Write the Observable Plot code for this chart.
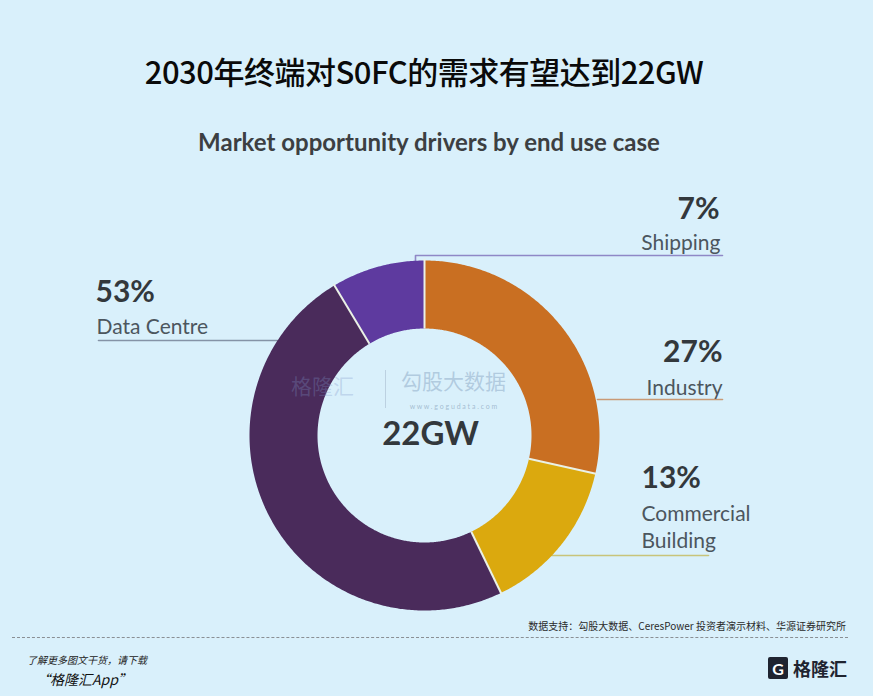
<!DOCTYPE html>
<html>
<head>
<meta charset="utf-8">
<script src="https://cdn.jsdelivr.net/npm/d3@7"></script>
<script src="https://cdn.jsdelivr.net/npm/@observablehq/plot@0.6"></script>
<style>
  html, body { margin: 0; padding: 0; }
  body { width: 873px; height: 696px; background: #d9f0fb; overflow: hidden; position: relative; font-family: "Noto Sans CJK SC", "Noto Sans", sans-serif; }
  #title { position: absolute; left: 0; width: 848px; top: 48px; text-align: center; font-size: 31px; font-weight: 500; color: #0a0a0a; line-height: 46px; letter-spacing: -0.5px; }
  #subtitle { position: absolute; left: 0; width: 858px; top: 127px; text-align: center; font-family: Lato, "Open Sans", sans-serif; font-size: 24px; font-weight: 700; color: #3c3f42; line-height: 30px; }
  #chart { position: absolute; left: 0; top: 180px; }
  #source { position: absolute; right: 27px; top: 619px; font-size: 10px; color: #2a2a2a; line-height: 14px; }
  #sep { position: absolute; left: 12px; width: 836px; top: 637px; border-top: 1px dashed #8a8f94; }
  #dl1 { position: absolute; left: 27px; top: 652px; font-size: 10px; font-style: italic; color: #222; }
  #dl2 { position: absolute; left: 36px; top: 669px; font-size: 14px; font-style: italic; color: #111; }
  #logo { position: absolute; left: 768px; top: 655px; display: flex; align-items: center; }
  #logo .g { width: 20px; height: 22px; background: #1f2430; color: #fff; font: bold 16px Lato, sans-serif; display: flex; align-items: center; justify-content: center; border-radius: 2px; }
  #logo .t { margin-left: 5px; font-size: 18px; font-weight: 700; color: #1f2430; }
</style>
</head>
<body>
<div id="title">2030年终端对S0FC的需求有望达到22GW</div>
<div id="subtitle">Market opportunity drivers by end use case</div>
<div id="chart"></div>
<div id="source">数据支持：勾股大数据、CeresPower 投资者演示材料、华源证券研究所</div>
<div id="sep"></div>
<div id="dl1">了解更多图文干货，请下载</div>
<div id="dl2">“格隆汇App”</div>
<div id="logo"><div class="g">G</div><div class="t">格隆汇</div></div>
<script>
// ---- data ----
const categories = ["Industry", "Commercial Building", "Data Centre", "Shipping"];
const labelNames = ["Industry", "Commercial\nBuilding", "Data Centre", "Shipping"];
const labelPcts = ["27%", "13%", "53%", "7%"];
// slice sizes as drawn in the picture (share of circle, clockwise from 12 o'clock)
const arcShares = [28.5, 14.3, 48.6, 8.6];
const sliceColors = ["#c96f22", "#dba90e", "#4a2b5b", "#5e3a9f"];
const lineColors = ["#c99a76", "#c8c47a", "#8593a6", "#8f88c6"];
const centerLabel = "22GW";

// ---- layout (page pixels) ----
const W = 873, H = 440, TOP = 180;
const CX = 424, CY = 435, R = 175, RIN = 107;
const toX = px => (px - CX) / R;
const toY = py => (CY - py) / R;

// label anchors (page px): pct position, name position, anchor, leader line path
const labelLayout = [
  {pct: [722, 352], name: [722, 387], anchor: "end", line: [[597, 399], [722, 399]]},
  {pct: [641, 478], name: [641, 513], anchor: "start", line: [[551, 555], [708, 555]]},
  {pct: [95, 292], name: [96, 326], anchor: "start", line: [[98, 340], [277, 340]]},
  {pct: [719, 209], name: [720, 242], anchor: "end", line: [[415, 262], [415, 255], [722, 255]]}
];

// ---- slice geometry from shares ----
const total = d3.sum(arcShares);
let acc = 0;
const slices = categories.map((c, i) => {
  const a0 = acc / total * 2 * Math.PI;
  acc += arcShares[i];
  const a1 = acc / total * 2 * Math.PI;
  return {cat: c, a0, a1};
});
const rIn = RIN / R;
const polyPts = [];
for (const s of slices) {
  const n = Math.max(8, Math.ceil((s.a1 - s.a0) / 0.01));
  const angs = d3.range(n + 1).map(k => s.a0 + (s.a1 - s.a0) * k / n);
  for (const a of angs) polyPts.push({cat: s.cat, x: Math.sin(a), y: Math.cos(a)});
  for (const a of angs.slice().reverse()) polyPts.push({cat: s.cat, x: rIn * Math.sin(a), y: rIn * Math.cos(a)});
}
const seps = slices.map(s => ({x1: rIn * Math.sin(s.a0), y1: rIn * Math.cos(s.a0), x2: 1.01 * Math.sin(s.a0), y2: 1.01 * Math.cos(s.a0)}));

const leaderPts = [];
labelLayout.forEach((l, i) => l.line.forEach(p => leaderPts.push({cat: categories[i], x: toX(p[0]), y: toY(p[1])})));

const pctTexts = labelLayout.map((l, i) => ({t: labelPcts[i], x: toX(l.pct[0]), y: toY(l.pct[1]), anchor: l.anchor}));
const nameTexts = labelLayout.map((l, i) => ({t: labelNames[i], x: toX(l.name[0]), y: toY(l.name[1]), anchor: l.anchor}));

const font = "Lato, 'Open Sans', sans-serif";
const labelMarks = [];
for (const anchor of ["start", "end"]) {
  labelMarks.push(
    Plot.text(pctTexts.filter(d => d.anchor === anchor), {x: "x", y: "y", text: "t", textAnchor: anchor, fontSize: 30, fontWeight: 700, fill: "#33383c", fontFamily: font}),
    Plot.text(nameTexts.filter(d => d.anchor === anchor), {x: "x", y: "y", text: "t", textAnchor: anchor, lineAnchor: "top", dy: -12, lineHeight: 1.3, fontSize: 21, fill: "#4c565e", fontFamily: font})
  );
}

const chart = Plot.plot({
  width: W, height: H, margin: 0,
  style: {background: "transparent", overflow: "visible"},
  x: {domain: [toX(0), toX(W)], axis: null},
  y: {domain: [toY(TOP + H), toY(TOP)], axis: null},
  color: {domain: categories, range: sliceColors},
  marks: [
    // leader lines
    Plot.line(leaderPts, {x: "x", y: "y", z: "cat", stroke: d => lineColors[categories.indexOf(d.cat)], strokeWidth: 1.6}),
    // donut slices
    Plot.line(polyPts, {x: "x", y: "y", z: "cat", fill: "cat", stroke: "none", curve: "linear-closed"}),
    Plot.link(seps, {x1: "x1", y1: "y1", x2: "x2", y2: "y2", stroke: "#eaf1e6", strokeWidth: 2}),
    // faint watermark
    Plot.text(["格隆汇"], {x: toX(322), y: toY(387), text: d => d, fontSize: 21, fill: "#7f95c8", fillOpacity: 0.3, fontFamily: "Noto Sans CJK SC"}),
    Plot.text(["勾股大数据"], {x: toX(453), y: toY(382), text: d => d, fontSize: 21, fill: "#8aa6c4", fillOpacity: 0.5, fontFamily: "Noto Sans CJK SC"}),
    Plot.text(["w w w . g o g u d a t a . c o m"], {x: toX(453), y: toY(406), text: d => d, fontSize: 7, fill: "#7f98b4", fillOpacity: 0.6, fontFamily: font}),
    Plot.ruleX([toX(385)], {y1: toY(370), y2: toY(408), stroke: "#9fb2c8", strokeOpacity: 0.5}),
    // center label
    Plot.text([centerLabel], {x: toX(430), y: toY(434), text: d => d, fontSize: 33, fontWeight: 700, fill: "#33383c", fontFamily: font}),
    ...labelMarks
  ]
});
document.getElementById("chart").appendChild(chart);
</script>
</body>
</html>
